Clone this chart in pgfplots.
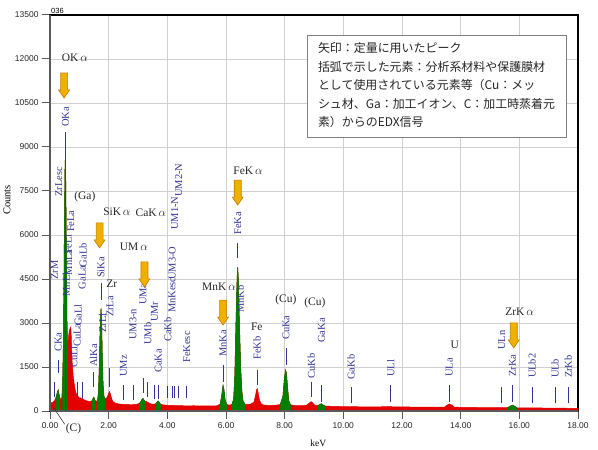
\documentclass[border=0pt]{standalone}
\usepackage{pgfplots}
\pgfplotsset{compat=1.18}
\usepackage{pgfplotstable}
\usepackage{fontspec}
\setmainfont{Liberation Serif}
\newfontfamily\tickfont{Liberation Sans}
\newfontfamily\cjk{Noto Sans CJK JP}

\definecolor{specred}{RGB}{228,0,0}
\definecolor{specgreen}{RGB}{0,128,0}
\definecolor{mkblue}{RGB}{52,52,150}
\definecolor{arrowfill}{RGB}{240,176,0}
\definecolor{arrowedge}{RGB}{196,124,0}
\definecolor{gridgray}{RGB}{208,208,208}
\definecolor{axgray}{RGB}{90,90,90}

% EDX spectrum (keV, counts)
\pgfplotstableread{
kev cnt
0.00 0
0.01 240
0.04 270
0.07 300
0.10 290
0.13 330
0.16 360
0.19 430
0.22 520
0.25 640
0.28 720
0.31 560
0.34 430
0.37 400
0.40 460
0.43 900
0.46 2600
0.49 6200
0.51 8200
0.525 8750
0.54 7600
0.56 5200
0.58 3000
0.60 2300
0.62 2400
0.64 2600
0.66 2750
0.68 2800
0.70 2850
0.72 2700
0.74 2100
0.76 1600
0.78 1350
0.80 1100
0.83 900
0.86 720
0.89 600
0.92 560
0.95 500
0.98 470
1.01 430
1.04 450
1.07 410
1.10 440
1.13 400
1.16 380
1.20 370
1.24 350
1.28 340
1.32 330
1.36 320
1.40 330
1.44 360
1.47 430
1.49 470
1.51 430
1.54 350
1.58 330
1.62 360
1.65 600
1.68 1500
1.71 2800
1.74 3500
1.76 3100
1.78 2000
1.81 900
1.84 500
1.88 420
1.92 430
1.96 500
2.00 600
2.03 660
2.06 580
2.10 430
2.14 330
2.18 290
2.25 260
2.35 240
2.45 230
2.55 220
2.65 230
2.75 210
2.85 220
2.95 230
3.05 260
3.10 320
3.14 400
3.17 430
3.20 380
3.24 310
3.28 330
3.32 300
3.38 270
3.45 240
3.55 230
3.62 260
3.66 320
3.69 340
3.72 300
3.77 230
3.85 210
3.95 200
4.10 190
4.30 185
4.50 180
4.70 175
4.90 180
5.10 170
5.30 175
5.50 170
5.70 180
5.80 240
5.85 500
5.90 880
5.93 740
5.97 380
6.02 230
6.10 200
6.20 220
6.26 400
6.30 1200
6.34 3000
6.38 4600
6.40 4900
6.42 4500
6.46 2900
6.50 1500
6.54 700
6.58 350
6.65 230
6.75 220
6.85 240
6.95 300
7.00 500
7.04 720
7.07 760
7.10 600
7.14 380
7.20 240
7.30 200
7.50 190
7.70 200
7.85 220
7.94 500
7.99 1100
8.03 1400
8.06 1300
8.10 800
8.14 350
8.20 210
8.40 180
8.60 180
8.75 200
8.85 280
8.90 320
8.95 280
9.02 200
9.12 180
9.20 220
9.25 250
9.30 210
9.38 170
9.60 160
10.0 150
10.5 145
11.0 140
11.6 150
11.7 140
12.5 135
13.0 130
13.45 130
13.55 210
13.62 240
13.70 200
13.78 130
14.5 120
15.0 115
15.6 115
15.70 170
15.77 200
15.84 160
15.92 110
16.5 105
17.0 100
17.5 95
18.0 90
}\spectrum

% marker line with label above it: x, line bottom, line top, label bottom, text
\newcommand{\mk}[5]{%
  \addplot[mkblue, line width=0.9pt, forget plot] coordinates {(#1,#2) (#1,#3)};
  \node[mklbl] at (axis cs:#1,#4) {#5};}
% label only: x, label bottom, text
\newcommand{\mkl}[3]{\node[mklbl] at (axis cs:#1,#2) {#3};}
% downward block arrow, tip at (x,y)
\newcommand{\yarrow}[2]{%
  \filldraw[fill=arrowfill, draw=arrowedge, line width=0.6pt]
    (axis cs:#1,#2) -- ++(-5.5bp,8bp) -- ++(2bp,0) -- ++(0,17bp)
    -- ++(7bp,0) -- ++(0,-17bp) -- ++(2bp,0) -- cycle;}

\tikzset{
  mklbl/.style={rotate=90, anchor=west, inner sep=0pt, text=mkblue,
    font=\fontsize{10.5}{11}\selectfont},
  ann/.style={inner sep=0pt, text=black!85, font=\fontsize{11.5}{12}\selectfont},
}

\begin{document}
\begin{tikzpicture}
\useasboundingbox (-50bp,-39bp) rectangle (548bp,411bp);
\begin{axis}[
  at={(0,0)}, anchor=south west,
  scale only axis, width=528bp, height=396bp,
  xmin=0, xmax=18, ymin=0, ymax=13500,
  scaled x ticks=false, scaled y ticks=false,
  xtick={0,2,...,18},
  xticklabels={0.00,2.00,4.00,6.00,8.00,10.00,12.00,14.00,16.00,18.00},
  ytick={0,1500,...,13500},
  yticklabels={0,1500,3000,4500,6000,7500,9000,10500,12000,13500},
  grid=major, major grid style={gridgray, line width=0.8pt},
  tick align=outside, tick pos=left, major tick length=8bp,
  tick style={axgray, line width=1pt},
  axis line style={black, line width=1.2pt},
  tick label style={font=\tickfont\fontsize{8.5}{9}\selectfont, text=black!85},
  xlabel={keV}, ylabel={Counts},
  xlabel style={at={(rel axis cs:0.508,-0.081)}, anchor=center,
    font=\fontsize{9.5}{10}\selectfont},
  ylabel style={at={(rel axis cs:-0.0814,0.533)}, anchor=center,
    font=\fontsize{10.5}{11}\selectfont},
  clip=false,
]
% whole spectrum
\addplot[draw=specred, fill=specred, line width=0.5pt] table[x=kev, y=cnt] {\spectrum} \closedcycle;
% peak windows used for quantification
\addplot[draw=specgreen, fill=specgreen, line width=0.5pt] coordinates {(0.22,520) (0.25,640) (0.28,720) (0.31,560) (0.34,430)} \closedcycle;
\addplot[draw=specgreen, fill=specgreen, line width=0.5pt] coordinates {(0.43,900) (0.46,2600) (0.49,6200) (0.51,8200) (0.525,8750) (0.54,7600) (0.56,5200) (0.58,3000)} \closedcycle;
\addplot[draw=specgreen, fill=specgreen, line width=0.5pt] coordinates {(1.44,360) (1.47,430) (1.49,470) (1.51,430) (1.54,350)} \closedcycle;
\addplot[draw=specgreen, fill=specgreen, line width=0.5pt] coordinates {(1.62,360) (1.65,600) (1.68,1500) (1.71,2800) (1.74,3500) (1.76,3100) (1.78,2000) (1.81,900) (1.84,500) (1.88,420)} \closedcycle;
\addplot[draw=specgreen, fill=specgreen, line width=0.5pt] coordinates {(3.05,260) (3.10,320) (3.14,400) (3.17,430) (3.20,380) (3.24,310)} \closedcycle;
\addplot[draw=specgreen, fill=specgreen, line width=0.5pt] coordinates {(3.62,260) (3.66,320) (3.69,340) (3.72,300) (3.77,230)} \closedcycle;
\addplot[draw=specgreen, fill=specgreen, line width=0.5pt] coordinates {(5.80,240) (5.85,500) (5.90,880) (5.93,740) (5.97,380) (6.02,230)} \closedcycle;
\addplot[draw=specgreen, fill=specgreen, line width=0.5pt] coordinates {(6.20,220) (6.26,400) (6.30,1200) (6.34,3000) (6.38,4600) (6.40,4900) (6.42,4500) (6.46,2900) (6.50,1500) (6.54,700) (6.58,350) (6.65,230)} \closedcycle;
\addplot[draw=specgreen, fill=specgreen, line width=0.5pt] coordinates {(7.85,220) (7.94,500) (7.99,1100) (8.03,1400) (8.06,1300) (8.10,800) (8.14,350) (8.20,210)} \closedcycle;
\addplot[draw=specgreen, fill=specgreen, line width=0.5pt] coordinates {(9.12,180) (9.20,220) (9.25,250) (9.30,210) (9.38,170)} \closedcycle;
\addplot[draw=specgreen, fill=specgreen, line width=0.5pt] coordinates {(15.6,115) (15.70,170) (15.77,200) (15.84,160) (15.92,110)} \closedcycle;

% left and bottom axis lines in dark grey
\draw[axgray, line width=2pt] (rel axis cs:0,0) -- (rel axis cs:0,1);
\draw[axgray, line width=1.4pt] (rel axis cs:0,0) -- (rel axis cs:1,0);

% element markers
\mk{0.151}{480}{1000}{4470}{ZrM}
\mkl{0.30}{7300}{ZrLesc}
\mk{0.277}{1300}{1740}{2010}{CKa}
\mk{0.525}{0}{9500}{9680}{OKa}
\mkl{0.556}{3900}{MnLl}
\mkl{0.637}{4620}{MnLa}
\mkl{0.615}{5350}{FeLl}
\mkl{0.705}{6100}{FeLa}
\mk{0.811}{450}{1100}{1470}{CuLl}
\mk{0.930}{430}{980}{2180}{CuLa}
\mkl{0.957}{2900}{GaLl}
\mk{1.098}{430}{980}{4150}{GaLa}
\mkl{1.125}{4900}{GaLb}
\mk{1.486}{820}{1330}{1500}{AlKa}
\mk{1.740}{3780}{4360}{4530}{SiKa}
\mkl{1.792}{2660}{ZrLl}
\mk{2.042}{820}{1470}{3200}{ZrLa}
\mk{2.507}{375}{890}{1160}{UMz}
\mk{2.83}{375}{890}{2420}{UM3-n}
\mk{3.171}{610}{1130}{3610}{UMa}
\mk{3.336}{480}{990}{2250}{UMb}
\mk{3.56}{400}{900}{3030}{UMr}
\mk{3.69}{400}{900}{1300}{CaKa}
\mk{4.013}{440}{850}{2350}{CaKb}
\mk{4.16}{440}{850}{3340}{MnKesc}
\mkl{4.17}{4470}{UM3-O}
\mk{4.25}{440}{850}{6170}{UM1-N}
\mk{4.39}{440}{850}{7300}{UM2-N}
\mk{4.66}{440}{850}{1640}{FeKesc}
\mk{5.899}{990}{1570}{1840}{MnKa}
\mk{6.404}{5220}{5730}{6000}{FeKa}
\mkl{6.49}{3340}{MnKb}
\mk{7.058}{890}{1400}{1740}{FeKb}
\mk{8.048}{1570}{2150}{2420}{CuKa}
\mk{8.905}{480}{990}{1100}{CuKb}
\mk{9.251}{300}{890}{2320}{GaKa}
\mk{10.26}{270}{820}{1060}{GaKb}
\mk{11.62}{300}{890}{1160}{ULl}
\mk{13.61}{300}{890}{1160}{ULa}
\mk{15.40}{270}{820}{2080}{ULn}
\mk{15.77}{300}{890}{1160}{ZrKa}
\mk{16.43}{270}{820}{1120}{ULb2}
\mk{17.22}{270}{820}{1120}{ULb}
\mk{17.67}{270}{820}{1120}{ZrKb}

% peaks used for quantification
\yarrow{0.48}{10670}
\yarrow{1.69}{5560}
\yarrow{3.22}{4230}
\yarrow{6.40}{7020}
\yarrow{5.90}{2930}
\yarrow{15.81}{2150}

\node[ann] at (axis cs:0.85,12035) {OK\,$\alpha$};
\node[ann] at (axis cs:1.19,7300) {(Ga)};
\node[ann] at (axis cs:2.28,6790) {SiK\,$\alpha$};
\node[ann] at (axis cs:3.44,6750) {CaK\,$\alpha$};
\node[ann] at (axis cs:2.86,5590) {UM\,$\alpha$};
\node[ann] at (axis cs:2.11,4330) {Zr};
\node[ann] at (axis cs:6.75,8180) {FeK\,$\alpha$};
\node[ann] at (axis cs:5.76,4230) {MnK\,$\alpha$};
\node[ann] at (axis cs:7.05,2860) {Fe};
\node[ann] at (axis cs:8.04,3780) {(Cu)};
\node[ann] at (axis cs:9.03,3680) {(Cu)};
\node[ann] at (axis cs:13.80,2250) {U};
\node[ann] at (axis cs:16.01,3380) {ZrK\,$\alpha$};
\draw[black!80, line width=0.6pt] (axis cs:0.10,150) -- (axis cs:0.50,-450);
\node[ann] at (axis cs:0.80,-620) {(C)};

\node[anchor=south west, inner sep=1pt, font=\tickfont\fontsize{7.5}{8}\selectfont]
  at (axis cs:0,13500) {036};

% legend box
\draw[draw=gray, fill=white, line width=0.8pt] (axis cs:8.76,9340) rectangle (axis cs:17.61,12820);
\node[anchor=north west, inner sep=0pt, align=left, text=black!85,
  font=\cjk\fontsize{12}{18.5}\selectfont] at (axis cs:9.13,12560)
  {矢印：定量に用いたピーク\\
   括弧で示した元素：分析系材料や保護膜材\\
   として使用されている元素等（Cu：メッ\\
   シュ材、Ga：加工イオン、C：加工時蒸着元\\
   素）からのEDX信号};
\end{axis}
\end{tikzpicture}
\end{document}
